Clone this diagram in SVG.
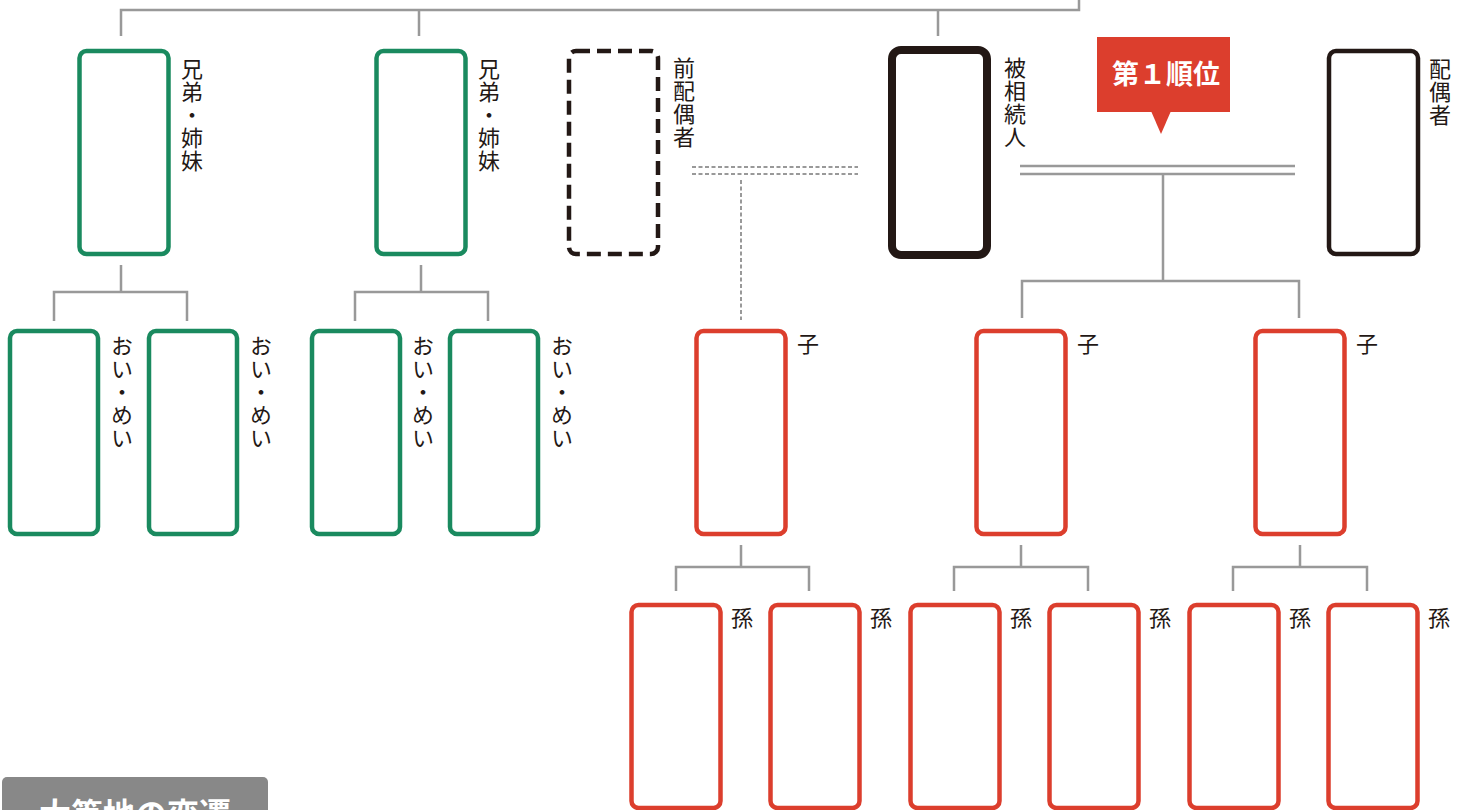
<svg xmlns="http://www.w3.org/2000/svg" width="1468" height="810" viewBox="0 0 1468 810">
<style>
.g{fill:#fff;stroke:#1a8a5f;stroke-width:4.5}
.r{fill:#fff;stroke:#dc3e2d;stroke-width:4.5}
.k{fill:#fff;stroke:#231815;stroke-width:4.5}
.kd{fill:#fff;stroke:#231815;stroke-width:4.5;stroke-dasharray:14 7}
.kb{fill:#fff;stroke:#231815;stroke-width:8}
.ln{fill:none;stroke:#999;stroke-width:2.5}
.dl{fill:none;stroke:#999;stroke-width:2;stroke-dasharray:4 2.5}
.v{font-family:"Noto Sans CJK JP","Noto Sans",sans-serif;font-size:22px;fill:#231815;writing-mode:vertical-rl;text-orientation:upright;letter-spacing:1px}
</style>
<g id="connectors">
<path class="ln" d="M121,36V10H1079V0M419,10V36M938,10V36"/>
<path class="ln" d="M121,265V292M54,321V292H187V321"/>
<path class="ln" d="M421,265V292M355,321V292H488V321"/>
<path class="dl" d="M692,167H858M692,174H858M741,180V320"/>
<path class="ln" d="M1020,166H1295M1020,174H1295M1163,174V281M1022,318V281H1299V318"/>
<path class="ln" d="M741,545V567M676,591V567H809V591"/>
<path class="ln" d="M1021,545V567M954,591V567H1088V591"/>
<path class="ln" d="M1300,545V567M1233,591V567H1367V591"/>
</g>
<g id="sibling1"><rect class="g" x="79.5" y="51" width="89" height="203" rx="7"/><text class="v" x="192" y="58">兄弟・姉妹</text></g>
<g id="sibling2"><rect class="g" x="376.5" y="51" width="89" height="203" rx="7"/><text class="v" x="489" y="58">兄弟・姉妹</text></g>
<g id="ex-spouse"><rect class="kd" x="569" y="51" width="89" height="203" rx="7"/><text class="v" x="684" y="57">前配偶者</text></g>
<g id="decedent"><rect class="kb" x="892" y="50" width="95" height="205" rx="9"/><text class="v" x="1015" y="57">被相続人</text></g>
<g id="spouse"><rect class="k" x="1329" y="51" width="89" height="203" rx="7"/><text class="v" x="1440" y="58">配偶者</text></g>
<g id="badge"><rect x="1097" y="37" width="133" height="75" fill="#dc3e2d"/><path d="M1151,111L1171,111L1161,134Z" fill="#dc3e2d"/><text x="1166" y="84" text-anchor="middle" font-family="Noto Sans CJK JP,sans-serif" font-size="27" font-weight="bold" fill="#fff">第１順位</text></g>
<g id="nephew1"><rect class="g" x="10" y="331" width="88" height="203" rx="7"/><text class="v" x="122" y="335">おい・めい</text></g>
<g id="nephew2"><rect class="g" x="149" y="331" width="88" height="203" rx="7"/><text class="v" x="261" y="335">おい・めい</text></g>
<g id="nephew3"><rect class="g" x="312" y="331" width="88" height="203" rx="7"/><text class="v" x="423" y="335">おい・めい</text></g>
<g id="nephew4"><rect class="g" x="450" y="331" width="88" height="203" rx="7"/><text class="v" x="562" y="335">おい・めい</text></g>
<g id="child1"><rect class="r" x="696.5" y="331" width="89" height="203" rx="7"/><text class="v" x="808" y="333">子</text></g>
<g id="child2"><rect class="r" x="976.5" y="331" width="89" height="203" rx="7"/><text class="v" x="1088" y="333">子</text></g>
<g id="child3"><rect class="r" x="1255.5" y="331" width="89" height="203" rx="7"/><text class="v" x="1367" y="333">子</text></g>
<g id="grandchild1"><rect class="r" x="631.5" y="605" width="89" height="203" rx="7"/><text class="v" x="742" y="607">孫</text></g>
<g id="grandchild2"><rect class="r" x="770.5" y="605" width="89" height="203" rx="7"/><text class="v" x="881" y="607">孫</text></g>
<g id="grandchild3"><rect class="r" x="910.5" y="605" width="89" height="203" rx="7"/><text class="v" x="1021" y="607">孫</text></g>
<g id="grandchild4"><rect class="r" x="1049.5" y="605" width="89" height="203" rx="7"/><text class="v" x="1160" y="607">孫</text></g>
<g id="grandchild5"><rect class="r" x="1189.5" y="605" width="89" height="203" rx="7"/><text class="v" x="1300" y="607">孫</text></g>
<g id="grandchild6"><rect class="r" x="1328.5" y="605" width="89" height="203" rx="7"/><text class="v" x="1439" y="607">孫</text></g>
<g id="footer-label"><rect x="2" y="777" width="266" height="50" rx="5" fill="#888"/><text x="135" y="826" text-anchor="middle" font-family="Noto Sans CJK JP,sans-serif" font-size="32" font-weight="bold" fill="#fff">大筆地の変遷</text></g>
</svg>
